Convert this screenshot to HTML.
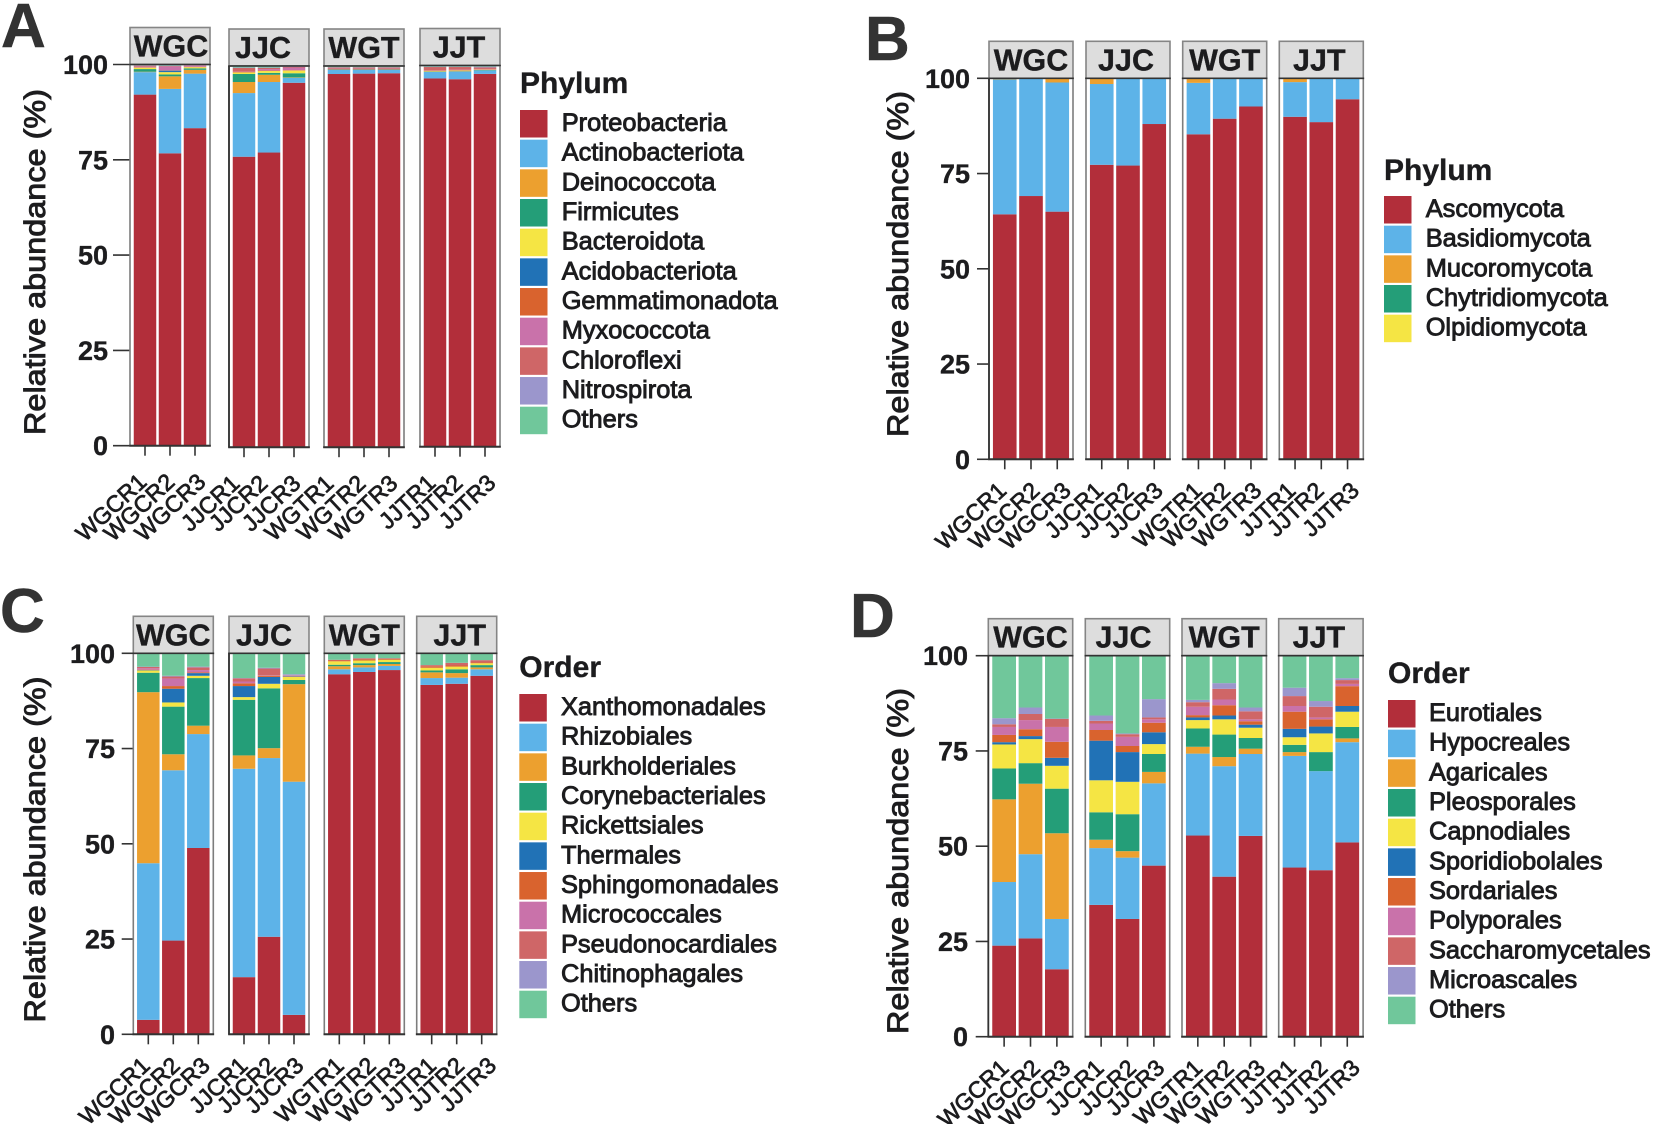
<!DOCTYPE html>
<html lang="en">
<head>
<meta charset="utf-8">
<title>Relative abundance stacked bar charts</title>
<style>
html,body{margin:0;padding:0;background:#fff;width:1654px;height:1124px;overflow:hidden}
svg{display:block}
text{font-family:"Liberation Sans",Arial,sans-serif;fill:#1c1c1e}
.semi{stroke:#1c1c1e;stroke-width:.9px}
.xt{stroke:#1c1c1e;stroke-width:.7px}
.b{font-weight:700}
.bs{font-weight:700;stroke:#1c1c1e;stroke-width:.35px}
</style>
</head>
<body>
<svg id="figure" xmlns="http://www.w3.org/2000/svg" width="1654" height="1124" viewBox="0 0 1654 1124"></svg>
<script>
// ---------- shared categories and labels ----------
const facetLabels = ['WGC', 'JJC', 'WGT', 'JJT'];
const sampleLabels = ['WGCR1','WGCR2','WGCR3','JJCR1','JJCR2','JJCR3','WGTR1','WGTR2','WGTR3','JJTR1','JJTR2','JJTR3'];
const yTickValues = [0, 25, 50, 75, 100];
const yAxisLabel = 'Relative abundance (%)';

// ---------- panel A: bacterial phylum ----------
const aProteobacteria = [92.1,76.7,83.3,76.2,77.3,95.6,97.9,98,98.1,96.6,96.4,97.8];
const aActinobacteriota = [5.9,16.9,14.3,16.7,18.5,1.3,1.1,1,.9,1.7,2,.9];
const aDeinococcota = [.1,3.3,1,2.9,1.9,.1,0,0,0,.1,.1,0];
const aFirmicutes = [.7,.5,.4,2.1,.5,1.1,.1,.1,.1,.1,.1,.1];
const aBacteroidota = [.4,.6,.3,.4,.5,.7,0,0,0,.1,.1,.1];
const aAcidobacteriota = [0,.4,0,0,0,0,0,0,0,0,0,0];
const aGemmatimonadota = [0,.1,.1,.1,.1,.1,.1,.1,.1,.1,.1,.1];
const aMyxococcota = [.3,1,.3,.1,.4,.7,.1,.1,.1,.1,.1,.1];
const aChloroflexi = [.2,.1,.1,1,.3,.2,.3,.3,.3,.8,.7,.4];
const aNitrospirota = [.1,.1,.1,.1,.1,.1,.1,.1,.1,.1,.1,.2];
const aOthers = [.1,.3,.1,.3,.4,.1,.3,.3,.3,.3,.3,.3];
const aSeriesNames = ['Proteobacteria','Actinobacteriota','Deinococcota','Firmicutes','Bacteroidota','Acidobacteriota','Gemmatimonadota','Myxococcota','Chloroflexi','Nitrospirota','Others'];

// ---------- panel B: fungal phylum ----------
const bAscomycota = [64.3,69.1,65,77.3,77.1,88,85.3,89.4,92.6,89.9,88.5,94.5];
const bBasidiomycota = [35.4,30.9,33.9,21.2,22.9,12,13.5,10.4,7.4,9.1,11.5,5.5];
const bMucoromycota = [.3,0,1.1,1.5,0,0,1.2,0,0,1,0,0];
const bChytridiomycota = [0,0,0,0,0,0,0,.2,0,0,0,0];
const bOlpidiomycota = [0,0,0,0,0,0,0,0,0,0,0,0];
const bSeriesNames = ['Ascomycota','Basidiomycota','Mucoromycota','Chytridiomycota','Olpidiomycota'];

// ---------- panel C: bacterial order ----------
const cXanthomonadales = [3.8,24.6,48.9,15,25.6,5.1,94.5,95.1,95.6,91.7,92,94.1];
const cRhizobiales = [41.1,44.7,29.9,54.7,46.9,61.2,1.3,1.2,1.1,1.8,1.6,1.7];
const cBurkholderiales = [44.9,4.2,2.2,3.5,2.6,25.6,.8,.6,.5,1.5,1.2,.5];
const cCorynebacteriales = [5.1,12.5,12.5,14.6,15.7,1.1,.4,.5,.5,.5,1,.6];
const cRickettsiales = [.6,1.1,.6,.7,1.2,.8,.9,.7,.6,.7,.7,.5];
const cThermales = [.1,3.6,.7,2.9,1.8,.1,0,0,0,0,0,0];
const cSphingomonadales = [.1,.7,.2,.7,.3,.1,.2,.3,.2,.4,.3,.2];
const cMicrococcales = [.4,2,.6,.5,.1,.1,0,0,0,0,0,0];
const cPseudonocardiales = [.3,.5,.7,.8,1.8,.1,.2,.3,.2,.3,.7,.6];
const cChitinophagales = [.1,.2,.2,.1,.2,.3,0,0,0,0,0,0];
const cOthers = [3.5,5.9,3.5,6.5,3.8,5.5,1.6,1.3,1.3,3.1,2.5,1.8];
const cSeriesNames = ['Xanthomonadales','Rhizobiales','Burkholderiales','Corynebacteriales','Rickettsiales','Thermales','Sphingomonadales','Micrococcales','Pseudonocardiales','Chitinophagales','Others'];

// ---------- panel D: fungal order ----------
const dEurotiales = [23.9,25.8,17.7,34.6,30.9,44.9,52.8,42,52.7,44.4,43.7,51];
const dHypocreales = [16.7,22.1,13.2,14.9,16.1,21.6,21.5,29,21.5,29.3,26,26.3];
const dAgaricales = [21.7,18.5,22.5,2.2,1.7,3,1.8,2.4,1.4,1,0,1];
const dPleosporales = [8.1,5.4,11.7,7.2,9.7,4.7,4.8,5.9,2.8,1.9,5,3];
const dCapnodiales = [6.3,6.3,6,8.4,8.5,2.6,2.2,4,2.7,2,4.9,4];
const dSporidiobolales = [.6,.8,2.1,10.4,7.8,3.1,.7,1,.8,2.2,1.8,1.5];
const dSordariales = [1.9,1.8,4.2,2.8,1.6,2.5,.6,2.7,.9,4.5,1.9,5.2];
const dPolyporales = [2.1,2.4,3.9,1.7,2.4,.9,2.2,1.5,.5,1.5,.5,.6];
const dSaccharomycetales = [.7,1.6,2.1,.7,.7,.5,1.2,2.8,2.1,2.6,2.8,1];
const dMicroascales = [1.6,1.7,.1,1.4,.2,4.8,.6,1.5,1,2.2,1.5,.5];
const dOthers = [16.4,13.6,16.5,15.7,20.4,11.4,11.6,7.2,13.6,8.4,11.9,5.9];
const dSeriesNames = ['Eurotiales','Hypocreales','Agaricales','Pleosporales','Capnodiales','Sporidiobolales','Sordariales','Polyporales','Saccharomycetales','Microascales','Others'];

// ---------- styling and layout (not data) ----------
const palette = ['#b22e3a','#5db3e8','#eca02f','#249e78','#f5e544','#2172b6','#d9632e','#c972aa','#cf6667','#9b96cc','#70c79b'];

const panels = [
  { id:'a', letter:'A', letterX:1, letterY:47,
    series:[aProteobacteria,aActinobacteriota,aDeinococcota,aFirmicutes,aBacteroidota,aAcidobacteriota,aGemmatimonadota,aMyxococcota,aChloroflexi,aNitrospirota,aOthers],
    names:aSeriesNames, legendTitle:'Phylum', darkLeft:1, legTitleGap:17,
    facetX:[130,229,324,420], facetW:80, facetDy:[0,1.5,1.5,1], y100:64.5, y0:445.7, stripH:37,
    tickRight:108, tickLeft:113, titleX:45, titleY:262, legX:520, legY:110, legTextX:561.7, stripShift:[1,-6,0,-1],
    labelDy:38, labelDx:[3,6,12,-3,0,8,-4,3,10,2,4,12] },
  { id:'b', letter:'B', letterX:865, letterY:60,
    series:[bAscomycota,bBasidiomycota,bMucoromycota,bChytridiomycota,bOlpidiomycota],
    names:bSeriesNames, legendTitle:'Phylum', darkLeft:0, legTitleGap:16,
    facetX:[989,1086,1182.7,1279.3], facetW:84, facetDy:[0,0,0,0], y100:78.3, y0:459.3, stripH:37,
    tickRight:970, tickLeft:977, titleX:908, titleY:264, legX:1384, legY:196, legTextX:1425.7, stripShift:[0,-2,0,-2],
    labelDy:33, labelDx:[3,10,15,3,7,10,5,7,12,2,4,13] },
  { id:'c', letter:'C', letterX:0, letterY:632,
    series:[cXanthomonadales,cRhizobiales,cBurkholderiales,cCorynebacteriales,cRickettsiales,cThermales,cSphingomonadales,cMicrococcales,cPseudonocardiales,cChitinophagales,cOthers],
    names:cSeriesNames, legendTitle:'Order', darkLeft:1, legTitleGap:17,
    facetX:[133.3,229,324.3,416.7], facetW:80, facetDy:[0,0,0,0], y100:653.3, y0:1034.3, stripH:37,
    tickRight:115, tickLeft:121.7, titleX:45, titleY:849.5, legX:519.3, legY:694, legTextX:561, stripShift:[0,-5,0,3],
    labelDy:33, labelDx:[3,8,13,5,8,11,6,13,18,6,9,16] },
  { id:'d', letter:'D', letterX:850, letterY:637,
    series:[dEurotiales,dHypocreales,dAgaricales,dPleosporales,dCapnodiales,dSporidiobolales,dSordariales,dPolyporales,dSaccharomycetales,dMicroascales,dOthers],
    names:dSeriesNames, legendTitle:'Order', darkLeft:0, legTitleGap:17,
    facetX:[988.3,1085.3,1182,1278.7], facetW:84.4, facetDy:[0,0,0,0], y100:655.7, y0:1036.7, stripH:37,
    tickRight:968, tickLeft:975.7, titleX:908, titleY:861, legX:1388, legY:700, legTextX:1429, stripShift:[0,-4,0,-2],
    labelDy:33, labelDx:[6,11,15,4,10,12,6,11,16,3,8,14] }
];

// ---------- drawing ----------
const NS = 'http://www.w3.org/2000/svg';
const svg = document.getElementById('figure');
function make(parent, tag, attrs, txt) {
  const n = document.createElementNS(NS, tag);
  for (const k in attrs) n.setAttribute(k, attrs[k]);
  if (txt !== undefined) n.textContent = txt;
  parent.appendChild(n);
  return n;
}
// axis functions
function yScale(p, value, dy) { return p.y0 + dy - value * (p.y0 - p.y100) / 100; }
function xUnit(p) { return p.facetW / 3.2; }
function xCenter(p, facet, i) { return p.facetX[facet] + xUnit(p) * (0.6 + i); }

panels.forEach(function (p) {
  const g = make(svg, 'g', {});
  
  

  const letter = make(g, 'text', { x:p.letterX, y:p.letterY, 'font-size':62, class:'b', style:'fill:#333;stroke:#333;stroke-width:.5px' }, p.letter);
  
  

  const yTitle = make(g, 'text', { transform:'translate(' + p.titleX + ' ' + p.titleY + ') rotate(-90)', 'text-anchor':'middle', 'font-size':30, class:'semi', textLength:346, lengthAdjust:'spacingAndGlyphs' }, yAxisLabel);
  
  

  yTickValues.forEach(function (v) {
    const y = yScale(p, v, 0);
    const tick = make(g, 'line', { x1:p.tickLeft, x2:p.facetX[0], y1:y, y2:y, stroke:'#333', 'stroke-width':1.6 });
    
    
    const lab = make(g, 'text', { x:p.tickRight, y:y + 9.5, 'text-anchor':'end', 'font-size':27, class:'bs' }, String(v));
    
    
  });

  facetLabels.forEach(function (label, f) {
    const dy = p.facetDy[f];
    const fx = p.facetX[f];
    const top = yScale(p, 100, dy);
    const bottom = yScale(p, 0, dy);

    const strip = make(g, 'rect', { x:fx, y:top - p.stripH, width:p.facetW, height:p.stripH, fill:'#dddddd', stroke:'#858585', 'stroke-width':1.6 });
    
    

    const stripText = make(g, 'text', { x:fx + p.facetW / 2 + p.stripShift[f], y:top - 8, 'text-anchor':'middle', 'font-size':30.5, class:'bs' }, label);
    
    

    const frame = make(g, 'rect', { x:fx, y:top, width:p.facetW, height:bottom - top, fill:'#fff', stroke:'#7d7d7d', 'stroke-width':1.6 });
    
    

    for (let i = 0; i < 3; i++) {
      const idx = f * 3 + i;
      const cx = xCenter(p, f, i);
      const bw = xUnit(p) * 0.9;
      let cum = 0;
      p.series.forEach(function (values, s) {
        const v = values[idx];
        if (v <= 0) return;
        const yTop = yScale(p, cum + v, dy);
        const yBot = yScale(p, cum, dy);
        cum += v;
        const bar = make(g, 'rect', { x:cx - bw / 2, y:yTop, width:bw, height:yBot - yTop, fill:palette[s] });
        
        
      });

      const tk = make(g, 'line', { x1:cx, x2:cx, y1:bottom, y2:bottom + 10, stroke:'#333', 'stroke-width':1.6 });
      
      

      const xl = make(g, 'text', { transform:'translate(' + (cx + p.labelDx[idx]) + ' ' + (bottom + p.labelDy) + ') rotate(-43)', 'text-anchor':'end', 'font-size':23.2, class:'xt' }, sampleLabels[idx]);
      
      
    }

    const base = make(g, 'line', { x1:fx - .8, x2:fx + p.facetW + .8, y1:bottom, y2:bottom, stroke:'#333', 'stroke-width':2 });
    
    

    const topLine = make(g, 'line', { x1:fx - .8, x2:fx + p.facetW + .8, y1:top, y2:top, stroke:'#333', 'stroke-width':1.6 });
    
    

    if (f === p.darkLeft) {
      const leftLine = make(g, 'line', { x1:fx, x2:fx, y1:top, y2:bottom, stroke:'#333', 'stroke-width':1.8 });
      
      
    }
  });

  const legend = make(g, 'g', {});
  
  

  const lt = make(legend, 'text', { x:p.legX, y:p.legY - p.legTitleGap, 'font-size':30, class:'bs' }, p.legendTitle);
  
  

  p.names.forEach(function (name, s) {
    const y = p.legY + s * 29.67;
    const sw = make(legend, 'rect', { x:p.legX, y:y, width:27.5, height:27.5, fill:palette[s] });
    
    
    const tx = make(legend, 'text', { x:p.legTextX, y:y + 21, 'font-size':25.4, class:'semi' }, name);
    
    
  });
});
</script>
</body>
</html>
